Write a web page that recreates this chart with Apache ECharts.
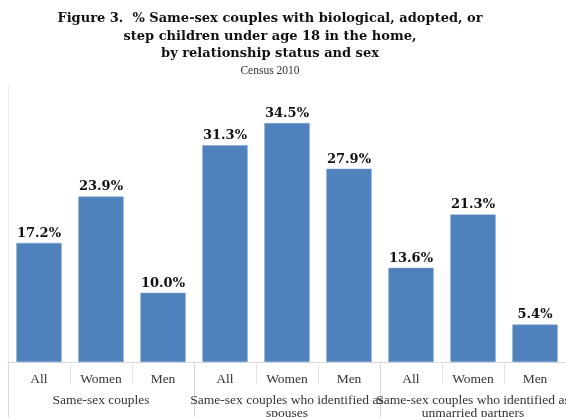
<!DOCTYPE html>
<html>
<head>
<meta charset="utf-8">
<script src="https://cdn.jsdelivr.net/npm/echarts@6/dist/echarts.min.js"></script>
<style>html,body{margin:0;padding:0;background:#fff}#c{width:566px;height:417px}</style>
</head>
<body>
<div id="c"></div>
<script>
var categories = ['All', 'Women', 'Men', 'All', 'Women', 'Men', 'All', 'Women', 'Men'];
var groups = ['Same-sex couples', 'Same-sex couples who identified as\nspouses', 'Same-sex couples who identified as\nunmarried partners'];
var values = [17.2, 23.9, 10.0, 31.3, 34.5, 27.9, 13.6, 21.3, 5.4];

var chart = echarts.init(document.getElementById('c'));
chart.setOption({
  animation: false,
  title: {
    text: 'Figure 3.  % Same-sex couples with biological, adopted, or\nstep children under age 18 in the home,\nby relationship status and sex',
    subtext: 'Census 2010',
    left: 265,
    top: 5,
    textAlign: 'center',
    itemGap: 1,
    textStyle: { fontFamily: 'DejaVu Serif', fontWeight: 'bold', fontSize: 13, lineHeight: 17.5, color: '#111' },
    subtextStyle: { fontFamily: 'Liberation Serif', fontSize: 11.5, lineHeight: 14, color: '#333' }
  },
  grid: { left: 8, right: 0, top: 85, bottom: 55, containLabel: false, outerBoundsMode: 'none' },
  xAxis: [{
    type: 'category',
    data: categories,
    axisLine: { show: true, lineStyle: { color: '#d9d9d9' } },
    axisTick: { show: true, length: 22, interval: 0, lineStyle: { color: '#e3e3e3' } },
    axisLabel: { interval: 0, margin: 10, fontFamily: 'Liberation Serif', fontSize: 13.5, color: '#333' }
  }, {
    type: 'category',
    data: groups,
    position: 'bottom',
    axisLine: { show: false },
    axisTick: { show: true, length: 55, interval: 0, lineStyle: { color: '#d9d9d9' } },
    axisLabel: { interval: 0, margin: 32, fontFamily: 'Liberation Serif', fontSize: 13.5, lineHeight: 13, color: '#333' }
  }],
  yAxis: {
    type: 'value', min: 0, max: 40,
    axisLine: { show: true, lineStyle: { color: '#eeeeee' } },
    axisTick: { show: false }, axisLabel: { show: false }, splitLine: { show: false }
  },
  series: [{
    type: 'bar',
    data: values,
    xAxisIndex: 0,
    barCategoryGap: '27%',
    itemStyle: { color: '#4F81BD', borderColor: '#7aa0cf', borderWidth: 0.5 },
    label: {
      show: true, position: 'top', distance: 3,
      formatter: function (p) { return p.value.toFixed(1) + '%'; },
      fontFamily: 'DejaVu Serif', fontWeight: 'bold', fontSize: 13, color: '#111'
    }
  }]
});
</script>
</body>
</html>
